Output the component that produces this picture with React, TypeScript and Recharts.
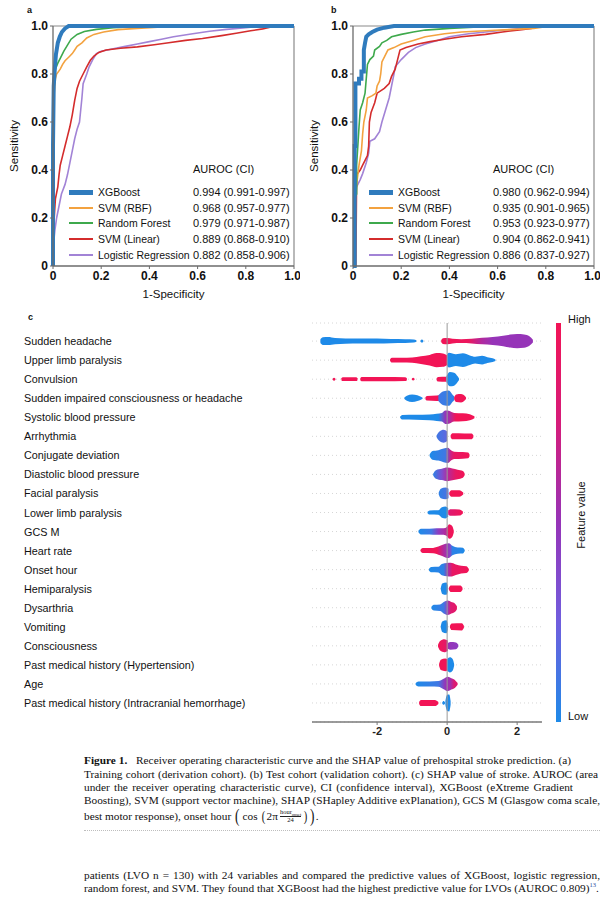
import React from 'react';
import { LineChart, Line, XAxis, YAxis, ReferenceLine, ComposedChart, Area, CartesianGrid } from 'recharts';

// ---- panels a / b : ROC curves ----
const modelNames = ['XGBoost', 'SVM (RBF)', 'Random Forest', 'SVM (Linear)', 'Logistic Regression'];
const modelColors = ['#2f7bbd', '#f3a23f', '#3ea94c', '#d42c2c', '#a283d6'];
const aurocTrain = ['0.994 (0.991-0.997)', '0.968 (0.957-0.977)', '0.979 (0.971-0.987)', '0.889 (0.868-0.910)', '0.882 (0.858-0.906)'];
const aurocTest = ['0.980 (0.962-0.994)', '0.935 (0.901-0.965)', '0.953 (0.923-0.977)', '0.904 (0.862-0.941)', '0.886 (0.837-0.927)'];
const rocTicks = [0, 0.2, 0.4, 0.6, 0.8, 1];

// [1-specificity, sensitivity]
const xgbTrain = [[0, 0], [0, 0.5], [0.003, 0.75], [0.008, 0.83], [0.012, 0.88], [0.02, 0.93], [0.028, 0.955], [0.037, 0.975], [0.05, 0.99], [0.065, 1], [1, 1]];
const rbfTrain = [[0, 0], [0, 0.55], [0.002, 0.66], [0.005, 0.72], [0.01, 0.78], [0.015, 0.8], [0.03, 0.82], [0.04, 0.84], [0.05, 0.855], [0.065, 0.87], [0.08, 0.885], [0.09, 0.9], [0.1, 0.915], [0.12, 0.93], [0.14, 0.95], [0.17, 0.965], [0.21, 0.975], [0.27, 0.985], [0.35, 0.99], [0.45, 0.996], [0.6, 1], [1, 1]];
const rfTrain = [[0, 0], [0, 0.6], [0.003, 0.78], [0.01, 0.82], [0.02, 0.845], [0.03, 0.865], [0.045, 0.895], [0.06, 0.92], [0.075, 0.945], [0.1, 0.965], [0.13, 0.977], [0.18, 0.986], [0.25, 0.993], [0.35, 0.998], [0.45, 1], [1, 1]];
const linTrain = [[0, 0], [0.002, 0.1], [0.005, 0.2], [0.01, 0.28], [0.02, 0.33], [0.025, 0.38], [0.03, 0.42], [0.04, 0.46], [0.05, 0.5], [0.06, 0.54], [0.07, 0.58], [0.08, 0.63], [0.09, 0.69], [0.1, 0.74], [0.11, 0.77], [0.125, 0.8], [0.14, 0.83], [0.155, 0.857], [0.17, 0.875], [0.19, 0.89], [0.22, 0.9], [0.28, 0.907], [0.35, 0.913], [0.42, 0.922], [0.48, 0.93], [0.55, 0.94], [0.62, 0.948], [0.7, 0.96], [0.76, 0.97], [0.82, 0.98], [0.87, 0.988], [0.9, 0.995], [0.93, 1], [1, 1]];
const lrTrain = [[0, 0], [0.003, 0.1], [0.008, 0.15], [0.015, 0.2], [0.025, 0.25], [0.035, 0.3], [0.05, 0.34], [0.06, 0.38], [0.07, 0.43], [0.08, 0.48], [0.09, 0.53], [0.1, 0.57], [0.11, 0.6], [0.115, 0.65], [0.12, 0.7], [0.125, 0.76], [0.14, 0.8], [0.15, 0.83], [0.165, 0.86], [0.18, 0.885], [0.2, 0.895], [0.25, 0.905], [0.3, 0.915], [0.35, 0.925], [0.4, 0.935], [0.45, 0.945], [0.5, 0.955], [0.58, 0.968], [0.65, 0.978], [0.72, 0.986], [0.8, 0.993], [0.88, 1], [1, 1]];

const xgbTest = [[0, 0], [0.007, 0], [0.007, 0.5], [0.01, 0.5], [0.01, 0.76], [0.025, 0.76], [0.025, 0.78], [0.035, 0.78], [0.035, 0.81], [0.045, 0.81], [0.045, 0.9], [0.05, 0.93], [0.055, 0.955], [0.065, 0.965], [0.08, 0.975], [0.1, 0.985], [0.13, 0.993], [0.17, 1], [1, 1]];
const rbfTest = [[0, 0], [0.01, 0], [0.01, 0.3], [0.02, 0.38], [0.025, 0.42], [0.035, 0.48], [0.04, 0.55], [0.045, 0.6], [0.055, 0.65], [0.06, 0.7], [0.08, 0.71], [0.095, 0.72], [0.1, 0.75], [0.11, 0.77], [0.115, 0.8], [0.12, 0.85], [0.13, 0.87], [0.145, 0.9], [0.17, 0.91], [0.2, 0.925], [0.25, 0.94], [0.3, 0.955], [0.38, 0.968], [0.45, 0.975], [0.55, 0.98], [0.65, 0.985], [0.75, 0.99], [0.82, 1], [1, 1]];
const rfTest = [[0, 0], [0.005, 0], [0.005, 0.28], [0.015, 0.3], [0.015, 0.42], [0.02, 0.5], [0.025, 0.58], [0.03, 0.65], [0.04, 0.68], [0.05, 0.72], [0.055, 0.78], [0.06, 0.84], [0.07, 0.86], [0.085, 0.875], [0.09, 0.9], [0.11, 0.915], [0.12, 0.93], [0.14, 0.94], [0.16, 0.955], [0.2, 0.965], [0.25, 0.975], [0.3, 0.983], [0.4, 0.99], [0.5, 0.995], [0.6, 1], [1, 1]];
const linTest = [[0, 0], [0.012, 0], [0.015, 0.38], [0.03, 0.4], [0.04, 0.42], [0.05, 0.44], [0.06, 0.46], [0.065, 0.5], [0.068, 0.6], [0.075, 0.64], [0.09, 0.68], [0.1, 0.72], [0.13, 0.74], [0.15, 0.76], [0.16, 0.79], [0.175, 0.82], [0.185, 0.86], [0.195, 0.9], [0.22, 0.91], [0.27, 0.925], [0.32, 0.935], [0.38, 0.945], [0.45, 0.955], [0.55, 0.965], [0.62, 0.975], [0.7, 0.985], [0.74, 0.99], [0.78, 1], [1, 1]];
const lrTest = [[0, 0], [0.005, 0], [0.005, 0.26], [0.012, 0.3], [0.015, 0.33], [0.03, 0.36], [0.04, 0.385], [0.055, 0.43], [0.065, 0.47], [0.07, 0.52], [0.09, 0.53], [0.11, 0.56], [0.12, 0.6], [0.135, 0.65], [0.15, 0.7], [0.16, 0.75], [0.17, 0.8], [0.175, 0.83], [0.2, 0.86], [0.23, 0.89], [0.26, 0.91], [0.3, 0.925], [0.35, 0.94], [0.4, 0.955], [0.48, 0.968], [0.55, 0.975], [0.62, 0.982], [0.7, 0.99], [0.78, 1], [1, 1]];

const trainCurves = [xgbTrain, rbfTrain, rfTrain, linTrain, lrTrain];
const testCurves = [xgbTest, rbfTest, rfTest, linTest, lrTest];

// ---- panel c : SHAP summary ----
const featureNames = [
  'Sudden headache', 'Upper limb paralysis', 'Convulsion', 'Sudden impaired consciousness or headache',
  'Systolic blood pressure', 'Arrhythmia', 'Conjugate deviation', 'Diastolic blood pressure', 'Facial paralysis',
  'Lower limb paralysis', 'GCS M', 'Heart rate', 'Onset hour', 'Hemiparalysis', 'Dysarthria', 'Vomiting',
  'Consciousness', 'Past medical history (Hypertension)', 'Age', 'Past medical history (Intracranial hemorrhage)',
];
const shapTicks = [-2, 0, 2];

// each cluster: pts = [shap value, swarm thickness (fraction of row)], c = feature value (0 low .. 1 high)
const suddenHeadache = [
  { pts: [[-3.62, 0.2], [-3.55, 0.4], [-3.4, 0.42], [-3.2, 0.32], [-2.9, 0.28], [-2.5, 0.26], [-2.0, 0.26], [-1.6, 0.22], [-1.2, 0.2], [-0.95, 0.16], [-0.88, 0.08]], c: 0 },
  { pts: [[-0.76, 0.06], [-0.72, 0.16], [-0.68, 0.06]], c: 0 },
  { pts: [[-0.17, 0.1], [-0.12, 0.3], [0, 0.32], [0.15, 0.24], [0.4, 0.2], [0.7, 0.24], [1.0, 0.34], [1.3, 0.42], [1.6, 0.55], [1.8, 0.68], [2.0, 0.74], [2.2, 0.7], [2.35, 0.5], [2.45, 0.15]], c: [[-0.17, 1], [0.6, 0.95], [1.0, 0.6], [1.3, 0.5], [2.45, 0.5]] },
];
const upperLimb = [
  { pts: [[-1.63, 0.1], [-1.58, 0.26], [-1.3, 0.24], [-1.0, 0.28], [-0.75, 0.4], [-0.5, 0.55], [-0.3, 0.74], [-0.12, 0.7], [0, 0.5]], c: 1 },
  { pts: [[0, 0.6], [0.05, 0.78], [0.25, 0.62], [0.45, 0.72], [0.65, 0.5], [0.8, 0.36], [1.0, 0.45], [1.15, 0.3], [1.3, 0.2], [1.38, 0.08]], c: 0 },
];
const convulsion = [
  { pts: [[-3.27, 0.05], [-3.23, 0.16], [-3.19, 0.05]], c: 1 },
  { pts: [[-3.02, 0.1], [-2.98, 0.2], [-2.6, 0.2], [-2.56, 0.1]], c: 1 },
  { pts: [[-2.48, 0.1], [-2.44, 0.22], [-1.8, 0.22], [-1.2, 0.2], [-1.15, 0.1]], c: 1 },
  { pts: [[-1.01, 0.05], [-0.97, 0.14], [-0.93, 0.05]], c: 1 },
  { pts: [[-0.3, 0.1], [-0.26, 0.24], [-0.02, 0.26]], c: 1 },
  { pts: [[-0.02, 0.3], [0.08, 0.75], [0.2, 0.68], [0.3, 0.3], [0.34, 0.08]], c: 0 },
];
const suddenImpaired = [
  { pts: [[-1.22, 0.08], [-1.15, 0.26], [-1.0, 0.4], [-0.85, 0.3], [-0.75, 0.15], [-0.7, 0.05]], c: 0 },
  { pts: [[-0.62, 0.1], [-0.58, 0.24], [-0.3, 0.28], [-0.2, 0.3]], c: 1 },
  { pts: [[-0.25, 0.3], [-0.1, 0.74], [0.05, 0.8], [0.15, 0.4], [0.2, 0.2]], c: [[-0.25, 0.1], [0.2, 0.05]] },
  { pts: [[0.2, 0.1], [0.26, 0.4], [0.4, 0.45], [0.5, 0.25], [0.54, 0.08]], c: 1 },
];
const systolic = [
  { pts: [[-1.34, 0.08], [-1.28, 0.24], [-0.9, 0.26], [-0.5, 0.3], [-0.3, 0.38], [-0.15, 0.45], [-0.05, 0.7], [0.05, 0.68], [0.2, 0.45], [0.45, 0.42], [0.65, 0.32], [0.78, 0.1]], c: [[-1.34, 0], [-0.25, 0], [-0.05, 0.5], [0.05, 0.55], [0.25, 1], [0.78, 1]] },
];
const arrhythmia = [
  { pts: [[-0.3, 0.1], [-0.22, 0.5], [-0.1, 0.68], [0, 0.5]], c: [[-0.3, 0.1], [0, 0.2]] },
  { pts: [[0.1, 0.1], [0.15, 0.32], [0.5, 0.3], [0.7, 0.3], [0.75, 0.1]], c: 1 },
];
const conjugate = [
  { pts: [[-0.5, 0.08], [-0.42, 0.45], [-0.25, 0.55], [-0.1, 0.72], [0.02, 0.8], [0.12, 0.5], [0.2, 0.38], [0.45, 0.35], [0.6, 0.3], [0.64, 0.08]], c: [[-0.5, 0], [-0.05, 0.1], [0.1, 0.7], [0.2, 0.9], [0.64, 1]] },
];
const diastolic = [
  { pts: [[-0.4, 0.08], [-0.32, 0.45], [-0.15, 0.6], [0, 0.72], [0.15, 0.62], [0.3, 0.5], [0.45, 0.35], [0.5, 0.1]], c: [[-0.4, 0.05], [-0.15, 0.35], [0.05, 0.65], [0.25, 0.9], [0.5, 1]] },
];
const facial = [
  { pts: [[-0.24, 0.1], [-0.18, 0.5], [-0.05, 0.62], [0.04, 0.5]], c: [[-0.24, 0.05], [0.04, 0.15]] },
  { pts: [[0.06, 0.1], [0.12, 0.34], [0.35, 0.34], [0.46, 0.1]], c: 1 },
];
const lowerLimb = [
  { pts: [[-0.56, 0.08], [-0.5, 0.22], [-0.25, 0.24], [-0.15, 0.55], [-0.05, 0.62], [0.03, 0.45]], c: 0 },
  { pts: [[0.03, 0.2], [0.1, 0.34], [0.35, 0.32], [0.45, 0.1]], c: [[0.03, 0.8], [0.45, 1]] },
];
const gcsM = [
  { pts: [[-0.82, 0.08], [-0.75, 0.3], [-0.5, 0.3], [-0.3, 0.34], [-0.1, 0.34], [0, 0.5], [0.06, 0.76], [0.14, 0.6], [0.19, 0.1]], c: [[-0.82, 0], [-0.45, 0.1], [-0.25, 0.45], [-0.05, 0.6], [0.05, 0.95], [0.19, 1]] },
];
const heartRate = [
  { pts: [[-0.76, 0.08], [-0.7, 0.26], [-0.4, 0.28], [-0.2, 0.5], [-0.05, 0.72], [0.05, 0.78], [0.15, 0.5], [0.3, 0.32], [0.45, 0.3], [0.5, 0.08]], c: [[-0.76, 1], [-0.3, 1], [-0.1, 0.6], [0.08, 0.4], [0.15, 0.05], [0.5, 0]] },
];
const onsetHour = [
  { pts: [[-0.52, 0.08], [-0.45, 0.28], [-0.25, 0.3], [-0.15, 0.6], [0, 0.7], [0.1, 0.72], [0.25, 0.55], [0.4, 0.4], [0.55, 0.35], [0.62, 0.08]], c: [[-0.52, 0], [-0.1, 0.05], [0.05, 0.6], [0.15, 0.9], [0.62, 1]] },
];
const hemiparalysis = [
  { pts: [[-0.18, 0.1], [-0.14, 0.55], [-0.02, 0.65], [0.02, 0.3]], c: 0 },
  { pts: [[0.05, 0.1], [0.1, 0.34], [0.38, 0.34], [0.44, 0.1]], c: 1 },
];
const dysarthria = [
  { pts: [[-0.45, 0.08], [-0.38, 0.3], [-0.2, 0.34], [-0.1, 0.6], [0.02, 0.76], [0.12, 0.6], [0.22, 0.45], [0.28, 0.15]], c: [[-0.45, 0], [-0.1, 0.1], [0, 0.4], [0.1, 0.8], [0.28, 0.9]] },
];
const vomiting = [
  { pts: [[-0.18, 0.1], [-0.14, 0.55], [-0.02, 0.68], [0.02, 0.3]], c: 0 },
  { pts: [[0.08, 0.1], [0.13, 0.35], [0.42, 0.38], [0.48, 0.1]], c: 1 },
];
const consciousness = [
  { pts: [[-0.26, 0.1], [-0.2, 0.5], [-0.08, 0.68], [0.02, 0.55]], c: [[-0.26, 1], [0.02, 0.85]] },
  { pts: [[0.02, 0.3], [0.1, 0.4], [0.25, 0.36], [0.32, 0.1]], c: [[0.02, 0.5], [0.32, 0.45]] },
];
const pmhHypertension = [
  { pts: [[-0.23, 0.1], [-0.18, 0.55], [-0.05, 0.66], [0, 0.6]], c: 1 },
  { pts: [[0, 0.6], [0.08, 0.8], [0.16, 0.6], [0.2, 0.1]], c: 0 },
];
const age = [
  { pts: [[-0.9, 0.08], [-0.82, 0.26], [-0.5, 0.26], [-0.25, 0.3], [-0.1, 0.55], [0.02, 0.76], [0.12, 0.6], [0.22, 0.42], [0.3, 0.1]], c: [[-0.9, 0], [-0.25, 0.1], [-0.05, 0.5], [0.1, 0.55], [0.2, 0.8], [0.3, 0.85]] },
];
const pmhIch = [
  { pts: [[-0.8, 0.1], [-0.75, 0.32], [-0.35, 0.32], [-0.25, 0.1]], c: 1 },
  { pts: [[-0.14, 0.05], [-0.1, 0.2], [-0.06, 0.05]], c: 0 },
  { pts: [[-0.05, 0.2], [0, 0.85], [0.06, 0.9], [0.1, 0.2]], c: 0 },
];

const shapRows = [
  suddenHeadache, upperLimb, convulsion, suddenImpaired, systolic, arrhythmia, conjugate, diastolic, facial,
  lowerLimb, gcsM, heartRate, onsetHour, hemiparalysis, dysarthria, vomiting, consciousness, pmhHypertension, age, pmhIch,
];

const palette: [number, number[]][] = [
  [0, [30, 138, 232]], [0.25, [112, 94, 222]], [0.5, [150, 52, 184]], [0.75, [214, 28, 122]], [1, [242, 20, 86]],
];

function featureColor(f: number) {
  for (let i = 1; i < palette.length; i++) {
    if (f <= palette[i][0]) {
      const [f0, c0] = palette[i - 1];
      const [f1, c1] = palette[i];
      const t = (f - f0) / (f1 - f0);
      const c = c0.map((v, k) => Math.round(v + (c1[k] - v) * t));
      return `rgb(${c[0]},${c[1]},${c[2]})`;
    }
  }
  return 'rgb(242,20,86)';
}

const sans = '"Liberation Sans", Arial, Helvetica, sans-serif';
const serif = '"Liberation Serif", "Times New Roman", serif';

function RocPanel({ curves, auroc }: { curves: number[][][]; auroc: string[] }) {
  const legendY = [192, 208, 223, 239, 255];
  return (
    <div style={{ position: 'relative', width: 300, height: 300 }}>
      <LineChart width={300} height={300} margin={{ top: 26, right: 6, bottom: 0, left: 0 }}>
        <XAxis
          type="number" dataKey="x" domain={[0, 1]} ticks={rocTicks} height={34}
          tickFormatter={(v: number) => (v === 0 ? '0' : v.toFixed(1))}
          axisLine={{ stroke: '#6b6b6b', strokeWidth: 1.3 }} tickLine={{ stroke: '#6b6b6b' }} tickSize={3}
          tick={{ fill: '#111', fontSize: 12, fontWeight: 700 }}
          label={{ value: '1-Specificity', position: 'insideBottom', offset: 2, fill: '#111', fontSize: 11.5 }}
        />
        <YAxis
          type="number" domain={[0, 1]} ticks={rocTicks} width={53}
          tickFormatter={(v: number) => (v === 0 ? '0' : v.toFixed(1))}
          axisLine={{ stroke: '#6b6b6b', strokeWidth: 1.3 }} tickLine={{ stroke: '#6b6b6b' }} tickSize={3}
          tick={{ fill: '#111', fontSize: 12, fontWeight: 700 }}
          label={{ value: 'Sensitivity', angle: -90, position: 'insideLeft', offset: 14, fill: '#111', fontSize: 11.5, style: { textAnchor: 'middle' } }}
        />
        <ReferenceLine x={1} stroke="#8a8a8a" strokeWidth={1.2} />
        <ReferenceLine y={1} stroke="#8a8a8a" strokeWidth={1.2} />
        {[4, 3, 1, 2, 0].map((i) => (
          <Line
            key={modelNames[i]}
            data={curves[i].map(([x, y]) => ({ x, y }))}
            dataKey="y"
            name={modelNames[i]}
            type="linear"
            stroke={modelColors[i]}
            strokeWidth={i === 0 ? 4 : 1.6}
            dot={false}
            activeDot={false}
            isAnimationActive={false}
          />
        ))}
      </LineChart>
      <div style={{ position: 'absolute', left: 193, top: 162, fontSize: 11, lineHeight: '14px', color: '#111' }}>AUROC (CI)</div>
      {modelNames.map((name, i) => (
        <React.Fragment key={name}>
          <div style={{ position: 'absolute', left: 69, width: 24, top: legendY[i] - (i === 0 ? 2.5 : 1), height: i === 0 ? 5 : 2, background: modelColors[i] }} />
          <div style={{ position: 'absolute', left: 98, top: legendY[i] - 7, fontSize: 10.5, lineHeight: '14px', color: '#111', whiteSpace: 'nowrap' }}>{name}</div>
          <div style={{ position: 'absolute', left: 193, top: legendY[i] - 7, fontSize: 11, lineHeight: '14px', color: '#111', whiteSpace: 'nowrap' }}>{auroc[i]}</div>
        </React.Fragment>
      ))}
    </div>
  );
}

const FeatureTick = (props: any) => {
  const { y, payload } = props;
  return (
    <text x={24} y={y} dy={4} fontSize={10.8} fill="#111" textAnchor="start">{featureNames[payload.value]}</text>
  );
};

function ShapPanel() {
  const grads: React.ReactNode[] = [];
  const areas: React.ReactNode[] = [];
  shapRows.forEach((segs, r) => {
    segs.forEach((seg, s) => {
      const id = `shap-${r}-${s}`;
      const x0 = seg.pts[0][0];
      const x1 = seg.pts[seg.pts.length - 1][0];
      const stops = typeof seg.c === 'number' ? [[x0, seg.c], [x1, seg.c]] : seg.c;
      grads.push(
        <linearGradient key={id} id={id} x1="0" y1="0" x2="1" y2="0">
          {stops.map(([x, f], k) => (
            <stop key={k} offset={Math.min(1, Math.max(0, (x - x0) / (x1 - x0)))} stopColor={featureColor(f)} />
          ))}
        </linearGradient>,
      );
      areas.push(
        <Area
          key={id}
          data={seg.pts.map(([x, w]) => ({ x, band: [r - w / 2, r + w / 2] }))}
          dataKey="band"
          type="monotone"
          stroke="none"
          fill={`url(#${id})`}
          fillOpacity={1}
          dot={false}
          activeDot={false}
          isAnimationActive={false}
        />,
      );
    });
  });
  return (
    <div style={{ position: 'absolute', left: 0, top: 310, width: 614, height: 440 }}>
      <svg width={0} height={0} style={{ position: 'absolute' }}>
        <defs>{grads}</defs>
      </svg>
      <ComposedChart width={614} height={440} margin={{ top: 13, right: 72, bottom: 8, left: 0 }}>
        <CartesianGrid horizontal vertical={false} stroke="#d6d6d6" strokeDasharray="1 3" />
        <XAxis
          type="number" dataKey="x" domain={[-3.86, 2.71]} allowDataOverflow ticks={shapTicks} height={20}
          axisLine={{ stroke: '#7a7a7a', strokeWidth: 1.5 }} tickLine={{ stroke: '#7a7a7a' }} tickSize={3}
          tick={{ fill: '#222', fontSize: 11, fontWeight: 700 }}
        />
        <YAxis
          type="number" domain={[-0.95, 20]} allowDataOverflow reversed ticks={featureNames.map((_, i) => i)} interval={0}
          width={312} axisLine={false} tickLine={false} tick={FeatureTick}
        />
        <ReferenceLine x={0} stroke="#9a9a9a" strokeWidth={1} />
        {areas}
      </ComposedChart>
    </div>
  );
}

const capLine = (top: number, width?: number): React.CSSProperties => ({
  position: 'absolute', left: 84, top: top - 7, height: 14, lineHeight: '14px', whiteSpace: 'nowrap',
  width, textAlign: width ? 'justify' : 'left', textAlignLast: width ? 'justify' : 'auto',
});

const paren = (size: number, margin: string): React.CSSProperties => ({
  fontSize: size, lineHeight: '14px', height: 14, margin, display: 'inline-block', transform: 'scaleX(0.7)', overflow: 'visible',
});

export default function App() {
  return (
    <div style={{ position: 'absolute', left: 0, top: 0, width: 614, height: 900, background: '#fff', overflow: 'hidden', fontFamily: sans, color: '#111' }}>
      <div style={{ position: 'absolute', left: 0, top: 0 }}>
        <RocPanel curves={trainCurves} auroc={aurocTrain} />
      </div>
      <div style={{ position: 'absolute', left: 300, top: 0 }}>
        <RocPanel curves={testCurves} auroc={aurocTest} />
      </div>
      <div style={{ position: 'absolute', left: 27, top: 5, fontSize: 9, fontWeight: 700 }}>a</div>
      <div style={{ position: 'absolute', left: 331, top: 5, fontSize: 9, fontWeight: 700 }}>b</div>
      <div style={{ position: 'absolute', left: 28, top: 312, fontSize: 9, fontWeight: 700 }}>c</div>

      <ShapPanel />
      <div style={{ position: 'absolute', left: 556, top: 323, width: 4.5, height: 399, background: `linear-gradient(to top, ${palette.map(([f]) => `${featureColor(f)} ${f * 100}%`).join(', ')})` }} />
      <div style={{ position: 'absolute', left: 568, top: 313, fontSize: 11 }}>High</div>
      <div style={{ position: 'absolute', left: 568, top: 710, fontSize: 11 }}>Low</div>
      <div style={{ position: 'absolute', left: 581, top: 515, fontSize: 11, whiteSpace: 'nowrap', transform: 'translate(-50%, -50%) rotate(-90deg)' }}>Feature value</div>

      <div style={{ fontFamily: serif, fontSize: 11.3, color: '#111' }}>
        <div style={capLine(760, 487)}><b>Figure 1.</b>&nbsp;&nbsp; Receiver operating characteristic curve and the SHAP value of prehospital stroke prediction. (a)</div>
        <div style={capLine(773.5, 514)}>Training cohort (derivation cohort). (b) Test cohort (validation cohort). (c) SHAP value of stroke. AUROC (area</div>
        <div style={capLine(787, 489)}>under the receiver operating characteristic curve), CI (confidence interval), XGBoost (eXtreme Gradient</div>
        <div style={capLine(800, 516)}>Boosting), SVM (support vector machine), SHAP (SHapley Additive exPlanation), GCS M (Glasgow coma scale,</div>
        <div style={{ ...capLine(816), display: 'flex', alignItems: 'center' }}>
          <span>best motor response), onset hour</span>
          <span style={paren(19, '0 2px 0 3px')}>(</span>
          <span>cos</span>
          <span style={paren(15, '0 1px 0 3px')}>(</span>
          <span>2π</span>
          <span style={{ display: 'inline-flex', flexDirection: 'column', alignItems: 'center', fontSize: 6.5, lineHeight: '6.5px', margin: '0 1px 0 2px' }}>
            <span style={{ borderBottom: '0.7px solid #222' }}>hour<sub style={{ fontSize: 4.5, lineHeight: 0 }}>onset</sub></span>
            <span>24</span>
          </span>
          <span style={paren(15, '0 1px')}>)</span>
          <span style={paren(19, '0')}>)</span>
          <span>.</span>
        </div>
        <div style={{ position: 'absolute', left: 84, top: 830, width: 516, borderTop: '1px dotted #bdbdbd' }} />
        <div style={capLine(875, 516)}>patients (LVO n = 130) with 24 variables and compared the predictive values of XGBoost, logistic regression,</div>
        <div style={capLine(888, 514)}>random forest, and SVM. They found that XGBoost had the highest predictive value for LVOs (AUROC 0.809)<sup style={{ fontSize: 6.5, color: '#2b4ea0', lineHeight: 0 }}>13</sup>.</div>
      </div>
    </div>
  );
}
